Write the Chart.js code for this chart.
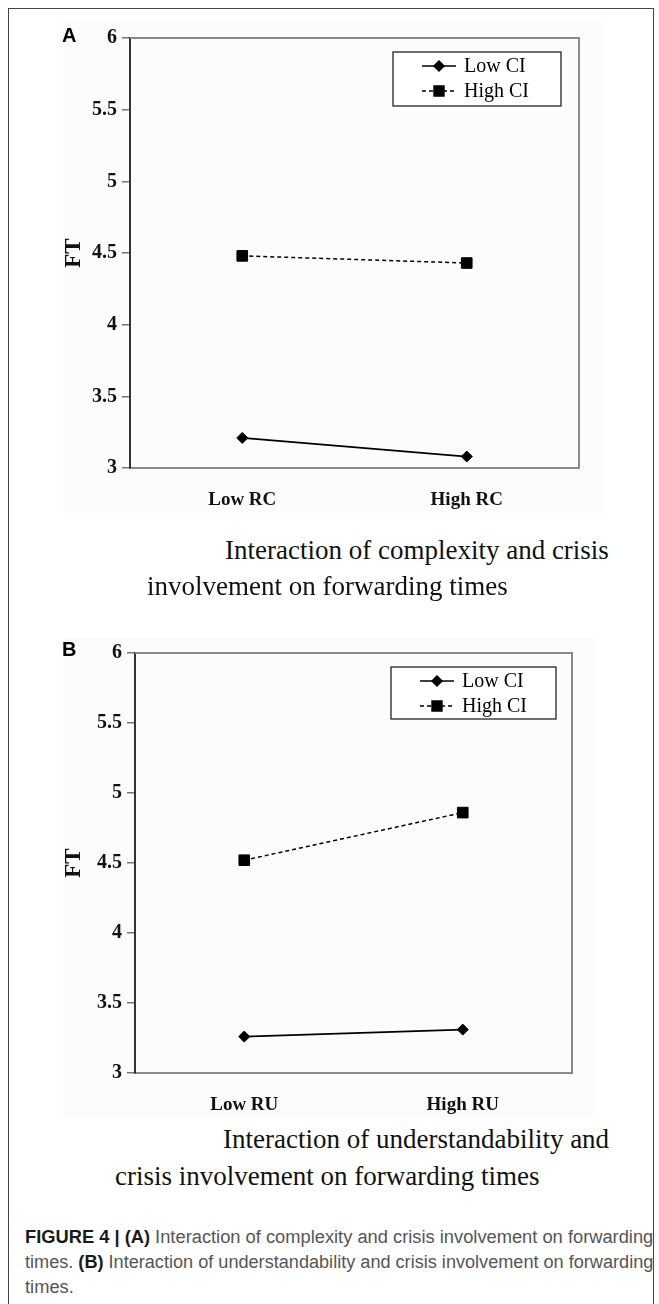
<!DOCTYPE html>
<html>
<head>
<meta charset="utf-8">
<script src="https://cdn.jsdelivr.net/npm/chart.js@4/dist/chart.umd.min.js"></script>
<style>
  html, body { margin: 0; padding: 0; background: #fff; }
  body { width: 659px; height: 1304px; position: relative; overflow: hidden; }
  .frame { position: absolute; left: 8px; top: 8px; width: 646px; height: 1310px; border: 1px solid #444; box-sizing: border-box; }
  .shade { position: absolute; background: #fcfcfc; }
  canvas { position: absolute; left: 0; }
  .panel { position: absolute; font: bold 20px Arial, "Liberation Sans", sans-serif; color: #000; }
  .cap { position: absolute; font: 27px/31px "Liberation Serif", "Times New Roman", serif; color: #111; white-space: nowrap; }
  .fig { position: absolute; left: 25px; font: 18px/25px "Liberation Sans", Arial, sans-serif; color: #555; white-space: nowrap; transform-origin: 0 50%; }
  .fig b { color: #1a1a1a; }
</style>
</head>
<body>
<div class="frame"></div>
<div class="shade" style="left:63px;top:20px;width:542px;height:493px"></div>
<div class="shade" style="left:63px;top:638px;width:534px;height:480px"></div>

<canvas id="chartA" width="659" height="520" style="top:0;width:659px;height:520px"></canvas>
<canvas id="chartB" width="659" height="520" style="top:600px;width:659px;height:520px"></canvas>

<div class="panel" style="left:62px;top:24px">A</div>
<div class="panel" style="left:62px;top:638px">B</div>

<div class="cap" style="left:225px;top:535px">Interaction of complexity and crisis</div>
<div class="cap" style="left:147px;top:571px">involvement on forwarding times</div>
<div class="cap" style="left:223px;top:1124px">Interaction of understandability and</div>
<div class="cap" style="left:115px;top:1161px">crisis involvement on forwarding times</div>

<div class="fig" style="top:1225px"><b>FIGURE 4 | (A)</b> Interaction of complexity and crisis involvement on forwarding</div>
<div class="fig" style="top:1250px">times. <b>(B)</b> Interaction of understandability and crisis involvement on forwarding</div>
<div class="fig" style="top:1275px">times.</div>

<script>
// values
const categoriesA = ['Low RC', 'High RC'];
const categoriesB = ['Low RU', 'High RU'];
const seriesNames = ['Low CI', 'High CI'];
const lowCiA = [3.21, 3.08];
const highCiA = [4.48, 4.43];
const lowCiB = [3.26, 3.31];
const highCiB = [4.52, 4.86];
const yTicks = [3, 3.5, 4, 4.5, 5, 5.5, 6];

const serif = '"Liberation Serif", "Times New Roman", serif';

// squeeze the caption lines to the justified width of the original
const figLines = document.querySelectorAll('.fig');
const squeeze = 628 / figLines[0].scrollWidth;
figLines.forEach((el, i) => {
  const k = i === 1 ? 628 / el.scrollWidth : squeeze;
  el.style.transform = `scaleX(${k})`;
});

// boxed legend (line sample + marker) and the gray top/right frame
const boxLegend = {
  id: 'boxLegend',
  afterDraw(chart, args, opts) {
    const { ctx, chartArea: a } = chart;
    ctx.save();
    ctx.strokeStyle = '#8a8a8a';
    ctx.lineWidth = 2;
    ctx.beginPath();
    ctx.moveTo(a.left, a.top);
    ctx.lineTo(a.right, a.top);
    ctx.lineTo(a.right, a.bottom);
    ctx.stroke();

    const x = a.right - opts.right - opts.width;
    const y = a.top + opts.top;
    ctx.fillStyle = '#fff';
    ctx.fillRect(x, y, opts.width, opts.height);
    ctx.strokeStyle = '#111';
    ctx.lineWidth = 1.2;
    ctx.strokeRect(x, y, opts.width, opts.height);

    chart.data.datasets.forEach((ds, i) => {
      const cy = y + 14 + i * 25;
      const lx = x + 29;
      ctx.strokeStyle = '#000';
      ctx.lineWidth = 1.5;
      ctx.setLineDash(ds.borderDash || []);
      ctx.beginPath();
      ctx.moveTo(lx, cy);
      ctx.lineTo(lx + 34, cy);
      ctx.stroke();
      ctx.setLineDash([]);
      ctx.fillStyle = '#000';
      Chart.helpers.drawPoint(ctx, {
        pointStyle: ds.pointStyle, radius: ds.pointRadius - 0.5, rotation: 0, borderWidth: 1
      }, lx + 17, cy);
      ctx.font = '20px ' + serif;
      ctx.textBaseline = 'middle';
      ctx.textAlign = 'left';
      ctx.fillText(ds.label, lx + 42, cy + 1);
    });
    ctx.restore();
  }
};

function makeChart(id, labels, lowVals, highVals, pad, legendPos) {
  return new Chart(document.getElementById(id), {
    type: 'line',
    data: {
      labels: labels,
      datasets: [
        {
          label: seriesNames[0],
          data: lowVals,
          borderColor: '#000',
          backgroundColor: '#000',
          borderWidth: 1.7,
          pointStyle: 'rectRot',
          pointRadius: 5.5,
          pointBorderWidth: 1,
        },
        {
          label: seriesNames[1],
          data: highVals,
          borderColor: '#000',
          backgroundColor: '#000',
          borderWidth: 1.5,
          borderDash: [4, 3],
          pointStyle: 'rect',
          pointRadius: 7.5,
          pointBorderWidth: 1,
        },
      ],
    },
    options: {
      responsive: false,
      animation: false,
      layout: { padding: { left: 60, right: pad.right, top: pad.top, bottom: 0 } },
      plugins: {
        legend: { display: false },
        tooltip: { enabled: false },
        boxLegend: legendPos,
      },
      scales: {
        x: {
          offset: true,
          afterFit: (s) => { s.height = pad.xHeight; },
          grid: { display: false },
          border: { display: true, color: '#8a8a8a', width: 2 },
          ticks: {
            color: '#111',
            padding: 13,
            maxRotation: 0,
            font: { family: serif, size: 19, weight: 'bold' },
          },
        },
        y: {
          min: 3,
          max: 6,
          afterFit: (s) => { s.width = pad.yWidth; },
          afterBuildTicks: (s) => { s.ticks = yTicks.map((v) => ({ value: v })); },
          grid: { drawOnChartArea: false, tickLength: 8, color: '#777', lineWidth: 1.5 },
          border: { display: true, color: '#333', width: 2 },
          ticks: {
            color: '#111',
            padding: 5,
            callback: (v) => String(v),
            font: { family: serif, size: 20, weight: 'bold' },
          },
          title: {
            display: true,
            text: 'FT',
            color: '#111',
            padding: { top: 0, bottom: 0 },
            font: { family: serif, size: 23, weight: 'bold' },
          },
        },
      },
    },
    plugins: [boxLegend],
  });
}

makeChart('chartA', categoriesA, lowCiA, highCiA,
  { right: 80, top: 38, xHeight: 52, yWidth: 70 },
  { right: 18, top: 14, width: 168, height: 54 });

makeChart('chartB', categoriesB, lowCiB, highCiB,
  { right: 87, top: 53, xHeight: 47, yWidth: 75 },
  { right: 16, top: 14, width: 165, height: 52 });
</script>
</body>
</html>
